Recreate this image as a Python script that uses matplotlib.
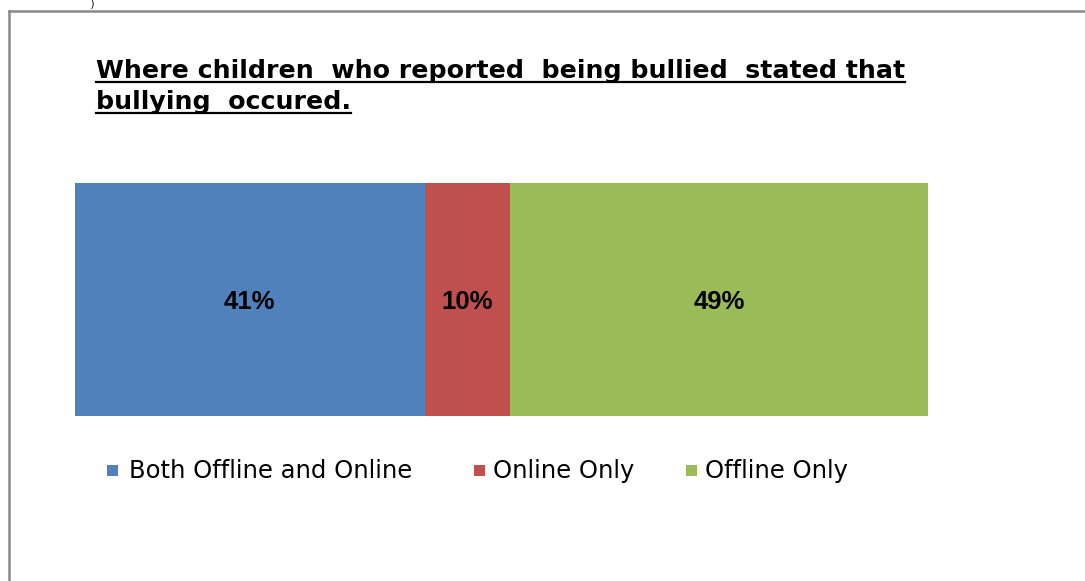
import matplotlib
matplotlib.use("Agg")
import matplotlib.pyplot as plt
from matplotlib.patches import Rectangle
from matplotlib.lines import Line2D

categories = ["Both Offline and Online", "Online Only", "Offline Only"]
values = [41, 10, 49]
labels = ["41%", "10%", "49%"]
colors = ["#4F81BD", "#C0504D", "#9BBB59"]
title_lines = ["Where children  who reported  being bullied  stated that",
               "bullying  occured."]

W, H = 1085, 581
fig = plt.figure(figsize=(W / 100, H / 100), dpi=100)
fig.patch.set_facecolor("white")
plt.rcParams['font.family'] = ['DejaVu Sans']

def fx(x):
    return x / W

def fy(y):
    return 1 - y / H

# outer frame (gray border)
fig.add_artist(Line2D([fx(8.5), fx(8.5)], [fy(10.5), fy(590)], color="#888888", lw=1.8))
fig.add_artist(Line2D([fx(8.5), fx(1090)], [fy(10.5), fy(10.5)], color="#888888", lw=1.8))

# stray fragment at very top
fig.text(fx(93), fy(4), ")", fontsize=7, ha="center", va="center", color="black",
         family="Liberation Sans")

# bar axes
ax = fig.add_axes([fx(75), fy(416), fx(928 - 75), (416 - 183) / H])
left = 0
for v, c, lab in zip(values, colors, labels):
    ax.barh(0, v, left=left, color=c, height=1.0, edgecolor="none")
    ax.text(left + v / 2, -0.012, lab, ha="center", va="center", fontsize=18.5,
            fontweight="bold", color="black", family="Liberation Sans")
    left += v
ax.set_xlim(0, sum(values))
ax.set_ylim(-0.5, 0.5)
ax.axis("off")

# title with underline
fig.canvas.draw()
renderer = fig.canvas.get_renderer()
target_w = 908 - 96
fs = 18.0
t0 = fig.text(0, 0, title_lines[0], fontsize=fs, fontweight="bold")
w0 = t0.get_window_extent(renderer=renderer).width
t0.remove()
fs = fs * target_w / w0
baselines = [78, 109]
for line, y in zip(title_lines, baselines):
    t = fig.text(fx(96), fy(y), line, fontsize=fs, fontweight="bold",
                 ha="left", va="baseline", color="black")
    bb = t.get_window_extent(renderer=renderer)
    uy = y + 4
    fig.add_artist(Line2D([bb.x0 / W, bb.x1 / W], [fy(uy), fy(uy)], color="black", lw=1.6))

# legend (manual entries)
sq_x = [107, 474, 686]
txt_x = [129, 493, 705]
for c, name, sx, tx in zip(colors, categories, sq_x, txt_x):
    fig.add_artist(Rectangle((fx(sx), fy(476)), 11 / W, 11 / H, facecolor=c,
                             edgecolor="none", transform=fig.transFigure))
    fig.text(fx(tx), fy(478), name, fontsize=17.5, ha="left", va="baseline", color="black")

fig.savefig("out.png", dpi=100, facecolor="white")
